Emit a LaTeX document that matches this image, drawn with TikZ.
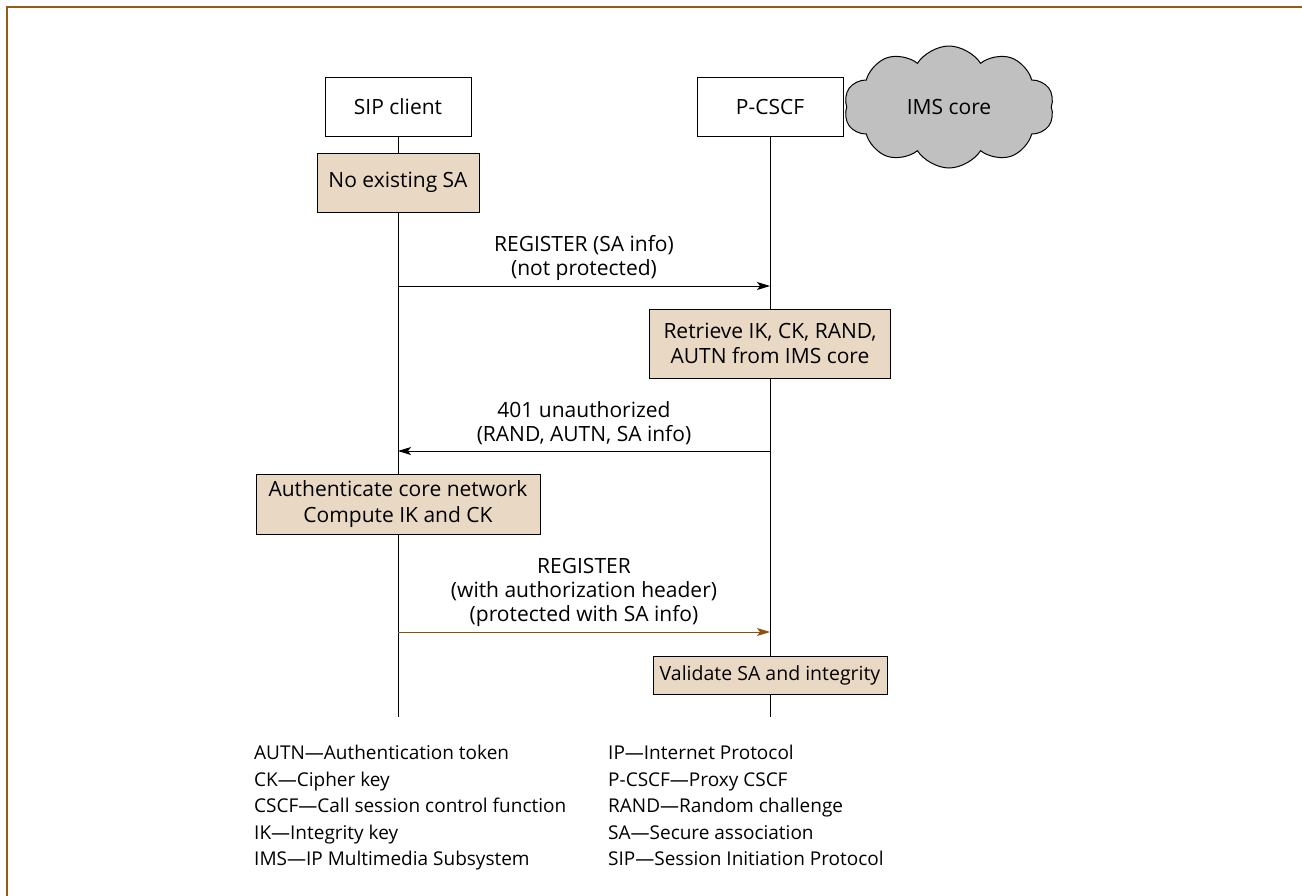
\documentclass[tikz,border=0pt]{standalone}
\usepackage{fontspec}
\setmainfont{Open Sans}
\usetikzlibrary{shapes.symbols,arrows.meta}
\definecolor{framebrown}{RGB}{150,90,20}
\definecolor{boxfill}{RGB}{233,216,196}
\definecolor{cloudgray}{RGB}{192,192,192}
\definecolor{arrowbrown}{RGB}{140,80,10}
\tikzset{
  every node/.style={font=\fontsize{21}{25.5}\selectfont, inner sep=0pt},
  entity/.style={draw, line width=1pt, fill=white, minimum width=146pt, minimum height=59pt},
  actbox/.style={draw, line width=1pt, fill=boxfill, align=center},
  msg/.style={line width=1pt, -{Stealth[length=13pt,width=8pt,inset=3pt]}},
  lifeline/.style={line width=1pt},
  lbl/.style={align=center, font=\fontsize{21}{24}\selectfont},
  legend/.style={align=left, anchor=north west, font=\fontsize{19}{26.5}\selectfont}
}
\begin{document}
\begin{tikzpicture}[x=1pt,y=-1pt]
\useasboundingbox (0,0) rectangle (1302,895);
% frame
\draw[framebrown, line width=2pt] (7,900) -- (7,7) -- (1310,7);
% entities
\node[entity] (sip) at (398,106.5) {SIP client};
\node[entity] (pcscf) at (770,106.5) {P-CSCF};
\node[cloud, cloud puffs=10, cloud puff arc=115, aspect=1.7, draw, line width=1pt, fill=cloudgray, minimum width=210pt, minimum height=122pt] (ims) at (949,107) {IMS core};
% lifeline ends
\coordinate (sipend) at (398,717);
\coordinate (pend) at (770,717);
\draw[lifeline] (sip.south) -- (sipend);
\draw[lifeline] (pcscf.south) -- (pend);
% action boxes
\node[actbox, minimum width=162pt, minimum height=59pt] (noSA) at (398,182.5) {No existing SA};
\node[actbox, minimum width=241pt, minimum height=69pt] (retr) at (770,343.5) {Retrieve IK, CK, RAND,\\AUTN from IMS core};
\node[actbox, minimum width=284pt, minimum height=60pt] (auth) at (398,504) {Authenticate core network\\Compute IK and CK};
\node[actbox, minimum width=234pt, minimum height=38pt, font=\fontsize{19.5}{24}\selectfont] (valid) at (770,675) {Validate SA and integrity};
% messages
\coordinate (m1s) at (398,286);
\coordinate (m1e) at (770,286);
\draw[msg] (m1s) -- (m1e);
\node[lbl] (m1l) at (584,257.5) {REGISTER (SA info)\\(not protected)};
\coordinate (m2s) at (770,451);
\coordinate (m2e) at (398,451);
\draw[msg] (m2s) -- (m2e);
\node[lbl] (m2l) at (584,423) {401 unauthorized\\(RAND, AUTN, SA info)};
\coordinate (m3s) at (398,632);
\coordinate (m3e) at (770,632);
\draw[msg, arrowbrown] (m3s) -- (m3e);
\node[lbl] (m3l) at (584,592) {REGISTER\\(with authorization header)\\(protected with SA info)};
% legend
\node[legend] (legL) at (254,745) {AUTN---Authentication token\\CK---Cipher key\\CSCF---Call session control function\\IK---Integrity key\\IMS---IP Multimedia Subsystem};
\node[legend] (legR) at (608,745) {IP---Internet Protocol\\P-CSCF---Proxy CSCF\\RAND---Random challenge\\SA---Secure association\\SIP---Session Initiation Protocol};
\end{tikzpicture}
\end{document}
